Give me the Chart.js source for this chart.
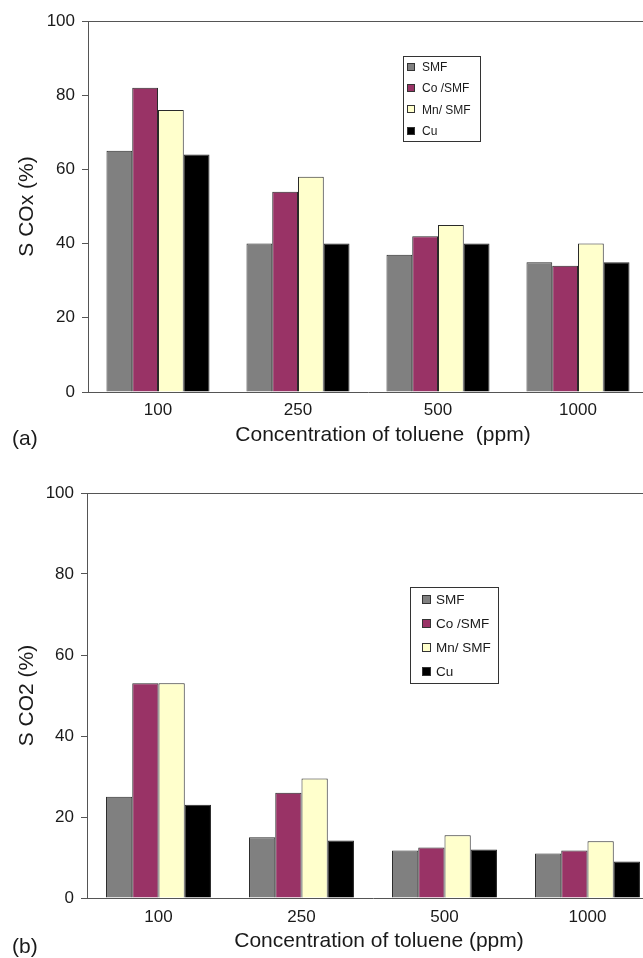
<!DOCTYPE html>
<html><head><meta charset="utf-8">
<script src="https://cdn.jsdelivr.net/npm/chart.js@4/dist/chart.umd.min.js"></script>
<style>
html,body{margin:0;padding:0;background:#fff;overflow:hidden;width:643px;height:958px;}
#wrap{position:relative;width:643px;height:958px;overflow:hidden;background:#fff;}
canvas{position:absolute;left:0;}
.lab{position:absolute;font-family:"Liberation Sans",Arial,sans-serif;font-size:21px;color:#1a1a1a;line-height:1;}
</style></head>
<body><div id="wrap">
<canvas id="ca" width="660" height="460" style="top:0px"></canvas>
<canvas id="cb" width="672" height="488" style="top:470px"></canvas>
<div class="lab" style="left:12px;top:427px">(a)</div>
<div class="lab" style="left:12px;top:935px">(b)</div>
</div>
<script>
// ---- data ----
const categories = ['100', '250', '500', '1000'];
const seriesNames = ['SMF', 'Co /SMF', 'Mn/ SMF', 'Cu'];
const yTicks = [0, 20, 40, 60, 80, 100];

// (a) S COx (%)
const coxSMF = [65, 40, 37, 35];
const coxCo  = [82, 54, 42, 34];
const coxMn  = [76, 58, 45, 40];
const coxCu  = [64, 40, 40, 35];

// (b) S CO2 (%)
const co2SMF = [25, 15, 11.7, 11];
const co2Co  = [53, 26, 12.5, 11.7];
const co2Mn  = [53, 29.5, 15.5, 14];
const co2Cu  = [23, 14.2, 12, 9];

const colors = ['#808080', '#993366', '#FFFFCC', '#000000'];
const FONT = '"Liberation Sans", Arial, Helvetica, sans-serif';
const TXT = '#1a1a1a';
const AX = '#555555';

const boxLegend = {
  id: 'boxLegend',
  afterDraw(chart, args, o) {
    if (!o || !o.w) return;
    const ctx = chart.ctx;
    ctx.save();
    ctx.fillStyle = '#fff';
    ctx.fillRect(o.x, o.y, o.w, o.h);
    ctx.strokeStyle = '#333';
    ctx.lineWidth = 1;
    ctx.strokeRect(o.x + 0.5, o.y + 0.5, o.w, o.h);
    ctx.font = o.size + 'px ' + FONT;
    ctx.textBaseline = 'middle';
    ctx.textAlign = 'left';
    chart.data.datasets.forEach((ds, i) => {
      const cy = o.y + o.rowH * (i + 0.5);
      const sy = Math.round(cy - o.sw / 2);
      ctx.fillStyle = ds.backgroundColor;
      ctx.fillRect(o.x + o.sx, sy, o.sw, o.sw);
      ctx.strokeStyle = '#333';
      ctx.strokeRect(o.x + o.sx + 0.5, sy + 0.5, o.sw - 1, o.sw - 1);
      ctx.fillStyle = TXT;
      ctx.fillText(ds.label, o.x + o.tx, cy + 1);
    });
    ctx.restore();
  }
};

const xTitle = {
  id: 'xTitle',
  afterDraw(chart, args, o) {
    if (!o || !o.text) return;
    const ctx = chart.ctx;
    ctx.save();
    ctx.font = o.size + 'px ' + FONT;
    ctx.fillStyle = TXT;
    ctx.textAlign = 'center';
    ctx.textBaseline = 'middle';
    ctx.fillText(o.text, o.cx, o.cy);
    ctx.restore();
  }
};

const frame = {
  id: 'frame',
  afterDatasetsDraw(chart) {
    const {ctx, chartArea: a} = chart;
    ctx.save();
    ctx.strokeStyle = AX;
    ctx.lineWidth = 1;
    ctx.beginPath();
    ctx.moveTo(a.left, Math.round(a.top) + 0.5);
    ctx.lineTo(a.right, Math.round(a.top) + 0.5);
    ctx.lineTo(a.right, a.bottom);
    ctx.stroke();
    ctx.restore();
  }
};

function makeChart(id, series, yTitleText, xTitleText, g) {
  const datasets = series.map((d, i) => ({
    label: seriesNames[i],
    data: d,
    backgroundColor: colors[i],
    borderColor: '#2a2a2a',
    borderWidth: 1,
    categoryPercentage: g.catPct,
    barPercentage: 1.0
  }));
  return new Chart(document.getElementById(id), {
    type: 'bar',
    data: { labels: categories, datasets },
    plugins: [frame, boxLegend, xTitle],
    options: {
      responsive: false,
      animation: false,
      devicePixelRatio: 1,
      layout: { padding: { top: g.padTop, right: g.padRight, bottom: 0, left: 0 } },
      plugins: {
        legend: { display: false },
        tooltip: { enabled: false },
        boxLegend: g.legend,
        xTitle: { text: xTitleText, cx: g.xTitleX, cy: g.xTitleY, size: 21 }
      },
      scales: {
        x: {
          type: 'category',
          offset: true,
          grid: { display: false, drawTicks: false },
          border: { display: true, color: AX, width: 1 },
          ticks: { padding: g.xTickPad, color: TXT, font: { family: FONT, size: 17 } },
          title: { display: false },
          afterFit(s) { s.height = g.xH; }
        },
        y: {
          min: 0, max: 100,
          afterBuildTicks(s) { s.ticks = yTicks.map(v => ({ value: v })); },
          grid: { drawOnChartArea: false, drawTicks: true, tickLength: 6, color: AX },
          border: { display: true, color: AX, width: 1 },
          ticks: { padding: 7, color: TXT, font: { family: FONT, size: 17 } },
          title: { display: true, text: yTitleText, color: TXT, font: { family: FONT, size: 21 },
                   padding: { top: g.yTitlePad, bottom: 0 } },
          afterFit(s) { s.width = g.yW; }
        }
      }
    }
  });
}

makeChart('ca', [coxSMF, coxCo, coxMn, coxCu], 'S COx (%)', 'Concentration of toluene  (ppm)', {
  catPct: 0.736, padTop: 21, padRight: 12, xH: 68, xTickPad: 8,
  xTitleX: 383, xTitleY: 435,
  yW: 88, yTitlePad: 14.4,
  legend: { x: 403, y: 56, w: 77, h: 85, rowH: 21.3, sx: 4, sw: 8, tx: 19, size: 12 }
});

makeChart('cb', [co2SMF, co2Co, co2Mn, co2Cu], 'S CO2 (%)', 'Concentration of toluene (ppm)', {
  catPct: 0.734, padTop: 23, padRight: 13, xH: 60, xTickPad: 9,
  xTitleX: 379, xTitleY: 471,
  yW: 87, yTitlePad: 15,
  legend: { x: 410, y: 117, w: 88, h: 96, rowH: 24, sx: 12, sw: 9, tx: 26, size: 13.5 }
});
</script>
</body></html>
